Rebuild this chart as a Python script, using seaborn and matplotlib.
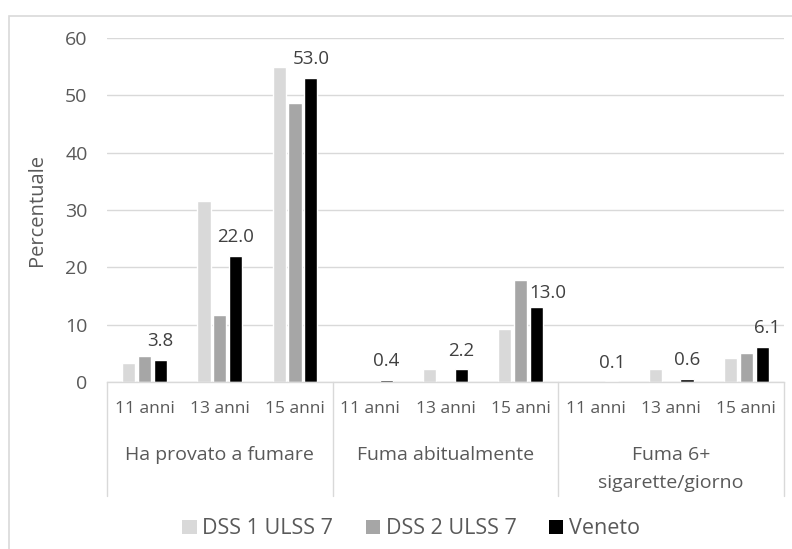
import matplotlib
matplotlib.use("Agg")
import matplotlib.pyplot as plt
import matplotlib.transforms as mtransforms
from matplotlib.patches import Rectangle, Patch
import seaborn as sns
import pandas as pd

# Data: smoking indicators by age, three territories
indicatori = ["Ha provato a fumare", "Fuma abitualmente", "Fuma 6+\nsigarette/giorno"]
eta = ["11 anni", "13 anni", "15 anni"]
serie = ["DSS 1 ULSS 7", "DSS 2 ULSS 7", "Veneto"]

dss1 = [3.4, 31.6, 55.0, 0.0, 2.2, 9.3, 0.0, 2.2, 4.2]
dss2 = [4.5, 11.7, 48.6, 0.0, 0.0, 17.8, 0.0, 0.0, 5.0]
veneto = [3.8, 22.0, 53.0, 0.4, 2.2, 13.0, 0.1, 0.6, 6.1]

colori = ["#d9d9d9", "#a6a6a6", "#000000"]
testo = "#595959"

categorie = [f"{i}|{e}" for i in indicatori for e in eta]
rows = []
for nome, valori in zip(serie, [dss1, dss2, veneto]):
    for c, v in zip(categorie, valori):
        rows.append({"categoria": c, "valore": v, "serie": nome})
df = pd.DataFrame(rows)

sns.set_theme(style="white")
plt.rcParams["font.family"] = ["Open Sans", "DejaVu Sans"]

fig = plt.figure(figsize=(7.92, 5.49), dpi=100)
ax = fig.add_axes([107 / 792, 1 - 382 / 549, (784 - 107) / 792, (382 - 38) / 549])

sns.barplot(data=df, x="categoria", y="valore", hue="serie", order=categorie,
            hue_order=serie, palette=colori, width=0.63, gap=0.17,
            saturation=1, ax=ax, legend=False, errorbar=None)

# value labels on the regional series
etichette = ax.bar_label(ax.containers[2], fmt="%.1f", padding=7, fontsize=13.5,
                         color="#404040")
# nudge labels that would sit on a neighbouring bar
etichette[5].xyann = (8, 4)
etichette[8].xyann = (3.5, 7)

ax.set_ylim(0, 60)
ax.set_xlim(-0.5, len(categorie) - 0.5)
ax.set_yticks(range(0, 61, 10))
ax.yaxis.grid(True, color="#d9d9d9", linewidth=1)
ax.set_axisbelow(True)
for s in ["top", "right", "left"]:
    ax.spines[s].set_visible(False)
ax.spines["bottom"].set_color("#d9d9d9")
ax.spines["bottom"].set_linewidth(1)

ax.set_xticks(range(len(categorie)))
ax.set_xticklabels(eta * len(indicatori), fontsize=12.5, color=testo)
ax.tick_params(axis="x", length=0, pad=14)
ax.tick_params(axis="y", length=0, pad=14, labelsize=14, labelcolor=testo)
ax.set_xlabel("")
ax.set_ylabel("Percentuale", fontsize=14.5, color=testo, labelpad=13)

# group separators and group labels below the axis
trans = mtransforms.blended_transform_factory(ax.transData, ax.transAxes)
sep_bottom = -(496 - 382) / 344
for xs in [-0.5, 2.5, 5.5, 8.5]:
    ax.plot([xs, xs], [0, sep_bottom], transform=trans, color="#d9d9d9",
            linewidth=1, clip_on=False)
for k, nome in enumerate(indicatori):
    ax.text(3 * k + 1, -(446 - 382) / 344, nome, transform=trans, ha="center",
            va="top", fontsize=14, color=testo, linespacing=1.7)

# legend
handles = [Patch(facecolor=c, edgecolor="none") for c in colori]
fig.legend(handles, serie, loc="center", bbox_to_anchor=(411 / 792, 1 - 529 / 549),
           ncol=3, frameon=False, fontsize=15.5, labelcolor=testo,
           handlelength=0.68, handleheight=0.68, handletextpad=0.25, columnspacing=1.5)

# chart frame
fig.patches.append(Rectangle((9 / 792, -0.2), 1.2, 1 - 16 / 549 + 0.2,
                             transform=fig.transFigure, fill=False,
                             edgecolor="#d9d9d9", linewidth=1.2))

fig.savefig("out.png", dpi=100, facecolor="white")
